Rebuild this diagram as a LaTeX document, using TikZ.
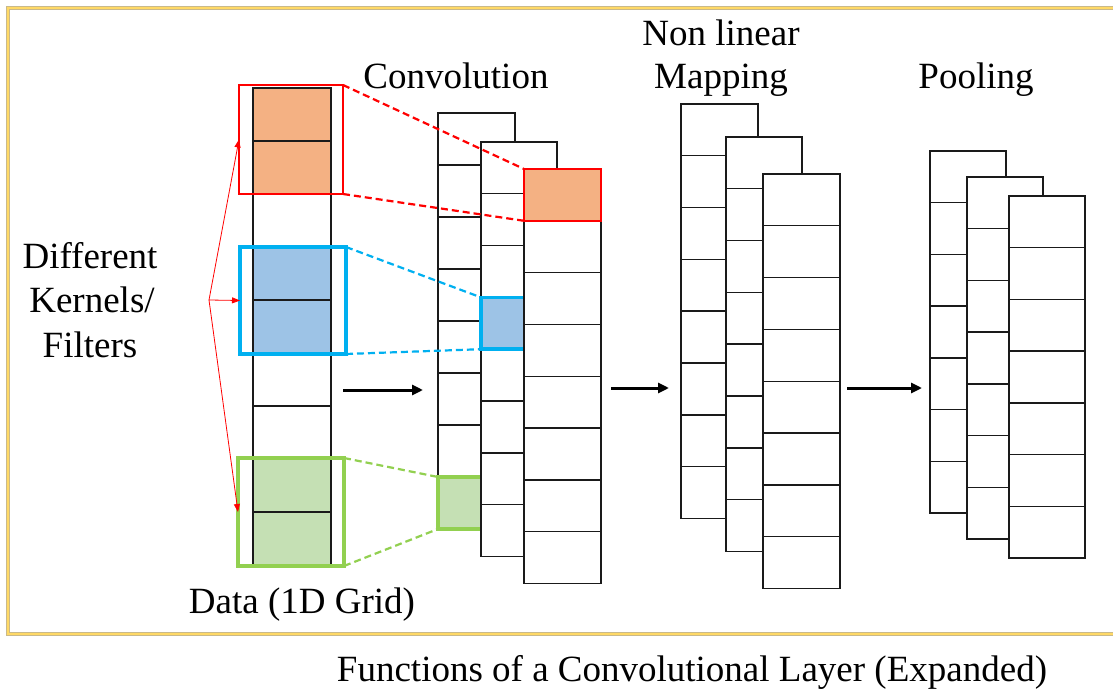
\documentclass[tikz,border=0pt]{standalone}
\usepackage{fontspec}
\setmainfont{Liberation Serif}
\newfontfamily\labelfont{Liberation Serif}
\usetikzlibrary{arrows.meta}

\definecolor{lineblack}{HTML}{1A1A1A}
\definecolor{kred}{HTML}{FF0000}
\definecolor{kblue}{HTML}{00B0F0}
\definecolor{kgreen}{HTML}{92D050}
\definecolor{forange}{HTML}{F4B183}
\definecolor{fblue}{HTML}{9DC3E6}
\definecolor{fgreen}{HTML}{C5E0B4}
\definecolor{frameyellow}{HTML}{FFD966}
\definecolor{framegray}{HTML}{C9B98A}

% \cnncol[extra style]{name}{x}{top y}{cells}{cell height}{width}
\newcommand\cnncol[7][]{%
  \node[colbox,#1,anchor=north west,minimum width=#7pt,minimum height=#5*#6pt] (#2) at (#3,#4) {};
  \pgfmathtruncatemacro\cnnlast{#5-1}%
  \foreach \k in {1,...,\cnnlast} \draw[cellline] (#3,#4+\k*#6) -- ++(#7,0);
}

\begin{document}
\begin{tikzpicture}[x=1pt,y=-1pt,
  colbox/.style={draw=lineblack,fill=white,line width=1.4pt,inner sep=0pt,outer sep=0pt},
  cellline/.style={lineblack,line width=1.4pt},
  hlbox/.style={inner sep=0pt,outer sep=0pt,anchor=north west},
  link/.style={dash pattern=on 7pt off 4pt,line width=2.2pt},
  flow/.style={line width=3pt,-{Triangle[length=11pt,width=10pt]}},
  pick/.style={kred,line width=0.8pt,-{Triangle[length=8pt,width=6pt]}},
  lbl/.style={font=\labelfont\fontsize{37}{44}\selectfont,inner sep=0pt,anchor=base},
]
\useasboundingbox (0,0) rectangle (1113,692);
\fill[white] (0,0) rectangle (1113,692);

% outer frame
\draw[framegray,line width=4.5pt] (8,8) rectangle (1125,634);
\draw[frameyellow,line width=2.6pt] (8,8) rectangle (1125,634);

% ---- input data column with three kernels ----
\fill[forange] (253,88) rectangle (331,194);
\fill[fblue] (253,247) rectangle (331,353);
\fill[fgreen] (253,459) rectangle (331,565);
\cnncol[fill=none]{data}{253}{88}{9}{53}{78}

\node[hlbox,draw=kred,line width=2.5pt,minimum width=104pt,minimum height=109pt] (kr) at (239,85) {};
\node[hlbox,draw=kblue,line width=3.5pt,minimum width=106pt,minimum height=107pt] (kb) at (240,247) {};
\node[hlbox,draw=kgreen,line width=3.5pt,minimum width=106pt,minimum height=108pt] (kg) at (238,458) {};

\coordinate (kfork) at (209,300);
\draw[pick] (kfork) -- (kr.west);
\draw[pick] (kfork) -- (kb.west);
\draw[pick] (kfork) -- (kg.west);

% ---- convolution stack ----
\cnncol{cv1}{438}{113}{8}{52}{77}
\node[hlbox,draw=kgreen,fill=fgreen,line width=3.5pt,minimum width=77pt,minimum height=52pt] (cg) at (438,477) {};
\cnncol{cv2}{481}{142}{8}{51.8}{76}
\node[hlbox,draw=kblue,fill=fblue,line width=3.5pt,minimum width=76pt,minimum height=51.8pt] (cb) at (481,297.4) {};
\cnncol{cv3}{524}{169}{8}{51.8}{77}
\node[hlbox,draw=kred,fill=forange,line width=2.5pt,minimum width=77pt,minimum height=51.8pt] (cr) at (524,169) {};

\draw[link,kred] (kr.north east) -- (cr.north west);
\draw[link,kred] (kr.south east) -- (cr.south west);
\draw[link,kblue] (kb.north east) -- (cb.north west);
\draw[link,kblue] (kb.south east) -- (cb.south west);
\draw[link,kgreen] (kg.north east) -- (cg.north west);
\draw[link,kgreen] (kg.south east) -- (cg.south west);

% ---- non linear mapping stack ----
\cnncol{nl1}{681}{104}{8}{51.8}{77}
\cnncol{nl2}{726}{137}{8}{51.8}{76}
\cnncol{nl3}{763}{174}{8}{51.8}{77}

% ---- pooling stack ----
\cnncol{pl1}{930}{151}{7}{51.7}{76}
\cnncol{pl2}{967}{177}{7}{51.7}{76}
\cnncol{pl3}{1009}{196}{7}{51.7}{76}

% ---- flow arrows between stages ----
\coordinate (f1s) at (343,390); \coordinate (f1e) at (423,390);
\coordinate (f2s) at (611,388); \coordinate (f2e) at (669,388);
\coordinate (f3s) at (847,388); \coordinate (f3e) at (922,388);
\draw[flow] (f1s) -- (f1e);
\draw[flow] (f2s) -- (f2e);
\draw[flow] (f3s) -- (f3e);

% ---- labels ----
\node[lbl] (tconv) at (456,89) {Convolution};
\node[lbl] (tnl1) at (721,46) {Non linear};
\node[lbl] (tnl2) at (721,89) {Mapping};
\node[lbl] (tpool) at (976,89) {Pooling};
\node[lbl] (tk1) at (90,269) {Different};
\node[lbl] (tk2) at (92,313) {Kernels/};
\node[lbl] (tk3) at (90,357) {Filters};
\node[lbl] (tdata) at (302,613) {Data (1D Grid)};
\node[lbl] (tcap) at (692,681) {Functions of a Convolutional Layer (Expanded)};
\end{tikzpicture}
\end{document}
